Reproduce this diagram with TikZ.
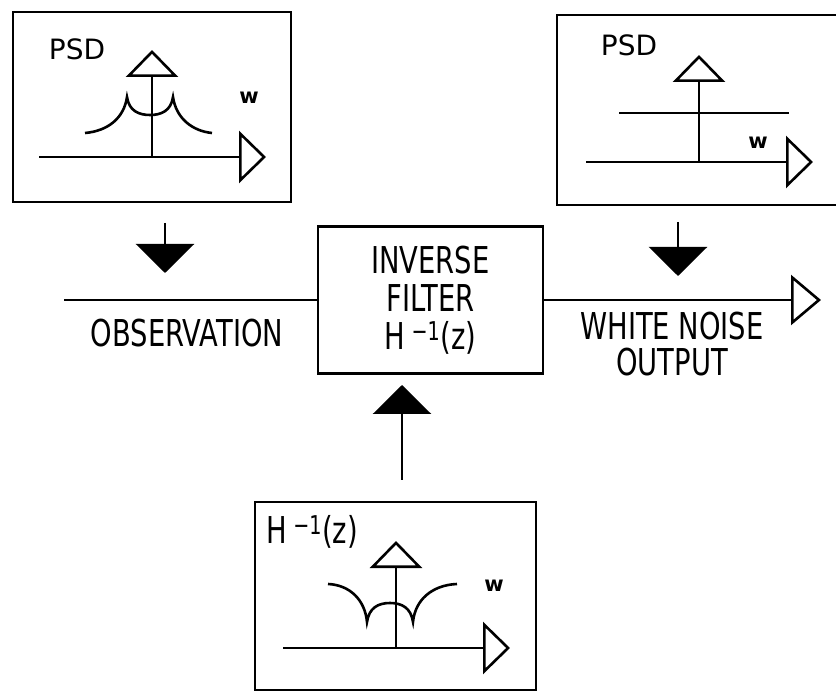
\documentclass[tikz,border=0pt]{standalone}
\usepackage{fontspec}
\setmainfont{DejaVu Sans}[FakeStretch=0.74]
\newfontfamily\labelfont{DejaVu Sans}
\usetikzlibrary{arrows.meta}

\begin{document}
\begin{tikzpicture}[x=1pt,y=-1pt,line width=2.6pt,
  panel/.style={draw,line width=2.8pt,inner sep=0pt},
  axis/.style={-{Triangle[open,length=27pt,width=52pt]}},
  feed/.style={-{Triangle[length=29pt,width=58pt]}},
  big/.style={font=\fontsize{37}{38}\selectfont},
  small/.style={font=\labelfont\fontsize{28}{30}\selectfont},
  wlab/.style={font=\labelfont\bfseries\fontsize{21}{21}\selectfont}]
  \useasboundingbox (0,0) rectangle (836,692);

  % Helper macro: spectrum axes. #1,#2 origin of the plot
  \newcommand{\psdaxes}[2]{%
    \begin{scope}[shift={(#1,#2)}]
      \draw[axis] (-113,0) -- (114,0);
      \draw[axis] (0,0) -- (0,-107);
    \end{scope}
  }

  % the three spectrum panels
  \node[panel,minimum width=278pt,minimum height=190pt] (psdin) at (152,107) {};
  \node[panel,minimum width=284pt,minimum height=190pt] (psdout) at (699,110) {};
  \node[panel,minimum width=281pt,minimum height=188pt] (resp) at (395.5,596) {};

  % observation spectrum
  \psdaxes{152}{157}
  \node[small] (psdinlab) at (77,49) {PSD};
  \node[wlab] (winlab) at (249,98) {w};
  \draw (85,133) .. controls (108,131) and (124,118) .. (127,97)
    .. controls (129,111) and (139,115) .. (150,115)
    .. controls (161,115) and (171,111) .. (173,97)
    .. controls (176,118) and (192,131) .. (212,133);

  % white spectrum
  \psdaxes{699}{162}
  \node[small] (psdoutlab) at (629,45) {PSD};
  \node[wlab] (woutlab) at (758,143) {w};
  \draw (619,113) -- (789,113);

  % filter response
  \psdaxes{396}{648}
  \node[big,anchor=west] (resplab) at (262,532) {H\,\textsuperscript{−1}(z)};
  \node[wlab] (wresplab) at (494,586) {w};
  \draw (328,584) .. controls (350,585) and (365,600) .. (367,622)
    .. controls (369,608) and (378,603) .. (390,603)
    .. controls (402,603) and (411,608) .. (413,622)
    .. controls (415,600) and (432,585) .. (457,584);

  % filter block and signal path
  \node[panel,align=center,minimum width=225pt,minimum height=147pt,
    font=\fontsize{37}{38}\selectfont] (filter) at (430.5,300)
    {INVERSE\\FILTER\\H\,\textsuperscript{−1}(z)};
  \coordinate (obsin) at (64,300);
  \coordinate (noiseout) at (821,300);
  \draw (obsin) -- (filter.west);
  \draw[-{Triangle[open,length=30pt,width=50pt]}] (filter.east) -- (noiseout);
  \node[big] (obslab) at (187,333) {OBSERVATION};
  \node[align=center,font=\fontsize{37}{36}\selectfont] (outlab) at (672,344)
    {WHITE NOISE\\OUTPUT};

  % feeds between panels and path
  \coordinate (fin1) at (165,223);
  \coordinate (fin2) at (165,273);
  \coordinate (fout1) at (678,222);
  \coordinate (fout2) at (678,276);
  \coordinate (fresp1) at (402,480);
  \coordinate (fresp2) at (402,385);
  \draw[feed] (fin1) -- (fin2);
  \draw[feed] (fout1) -- (fout2);
  \draw[feed] (fresp1) -- (fresp2);
\end{tikzpicture}
\end{document}
